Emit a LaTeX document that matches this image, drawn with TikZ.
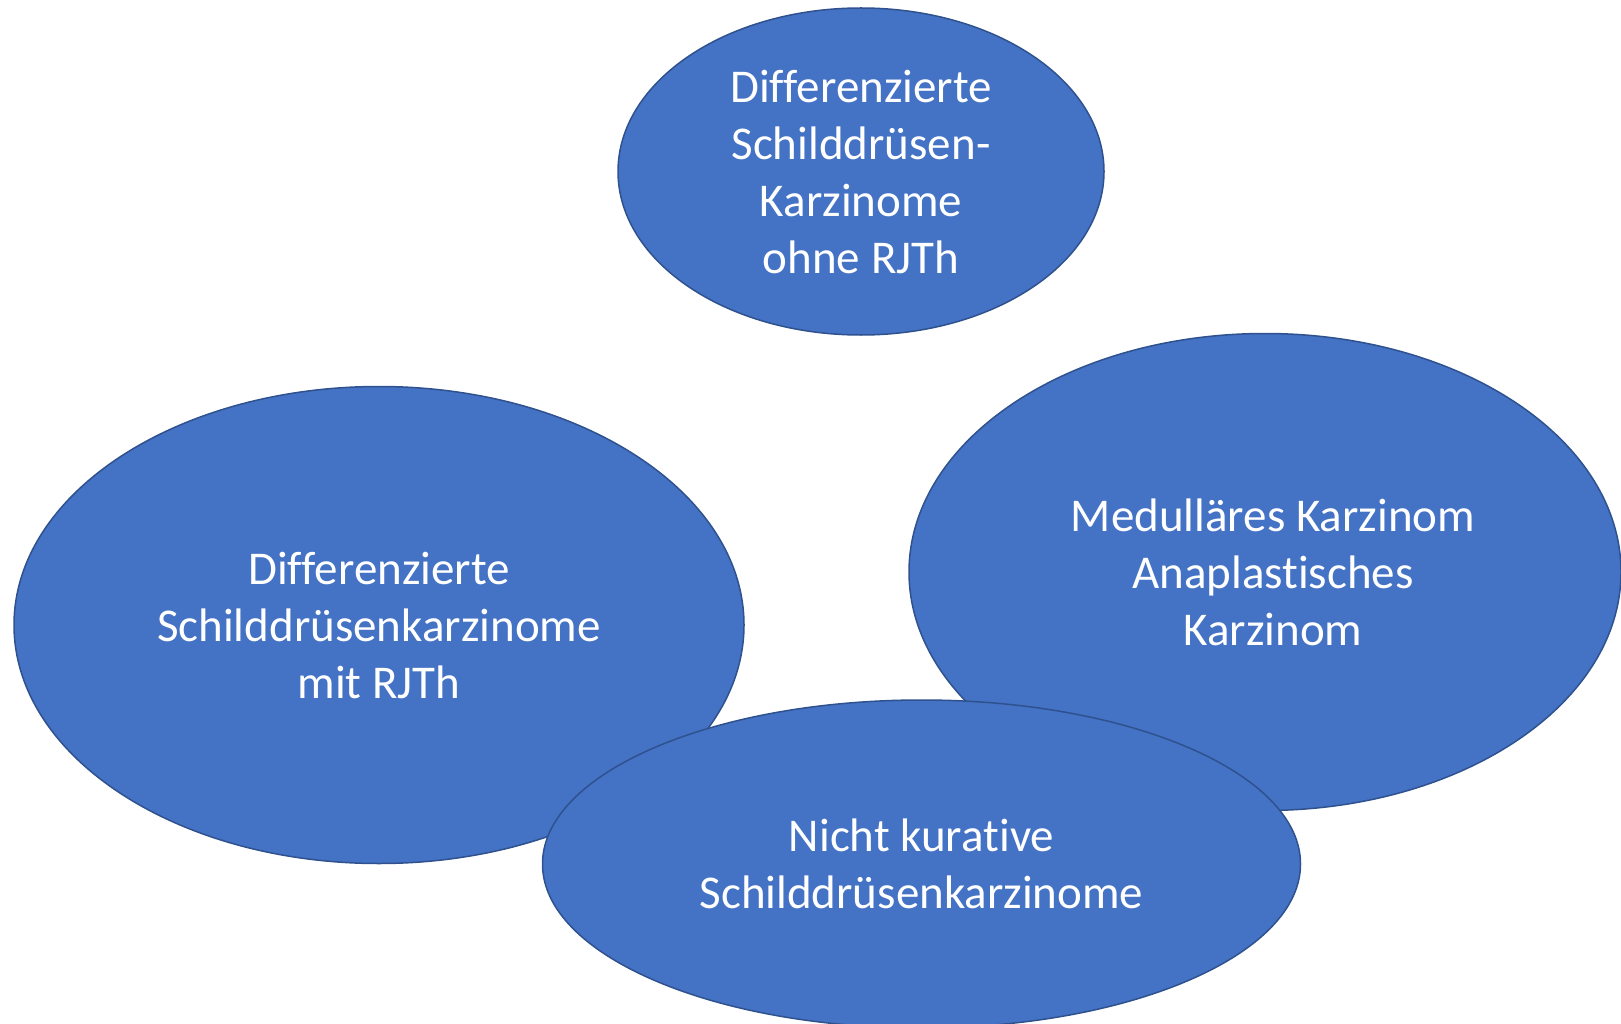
\documentclass[tikz,border=0pt]{standalone}
\usepackage{fontspec}
\setmainfont{Carlito}[Ligatures={NoCommon}]
\usetikzlibrary{shapes.geometric}
\definecolor{officeblue}{HTML}{4472C4}
\definecolor{officeedge}{HTML}{2F528F}
\tikzset{
  blob/.style={ellipse, draw=officeedge, fill=officeblue, line width=1.5pt,
    inner sep=0pt, text=white, align=center,
    font=\fontsize{47}{57}\selectfont},
  blobtext/.style={inner sep=0pt, text=white, align=center,
    font=\fontsize{47}{57}\selectfont}
}
\begin{document}
\begin{tikzpicture}[x=1pt,y=-1pt]
\useasboundingbox (0,0) rectangle (1621,1024);
\node[blob, minimum width=486pt, minimum height=327pt] (top) at (861,171.5)
  {Differenzierte\\Schilddrüsen-\\Karzinome\\ohne RJTh};
\node[blob, minimum width=730pt, minimum height=477pt] (left) at (379,625)
  {Differenzierte\\Schilddrüsenkarzinome\\mit RJTh};
\node[blob, minimum width=712pt, minimum height=477pt] (right) at (1265,572) {};
\node[blobtext] (righttext) at ([xshift=8pt]right.center)
  {Medulläres Karzinom\\Anaplastisches\\Karzinom};
\node[blob, minimum width=758pt, minimum height=328pt] (bottom) at (921.5,864)
  {Nicht kurative\\Schilddrüsenkarzinome};
\end{tikzpicture}
\end{document}
